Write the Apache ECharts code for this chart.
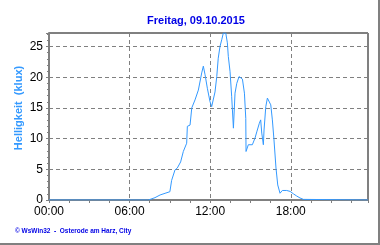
<!DOCTYPE html>
<html>
<head>
<meta charset="utf-8">
<script src="https://cdn.jsdelivr.net/npm/echarts@6/dist/echarts.min.js"></script>
<style>
html,body{margin:0;padding:0;background:#fff;}
#c{width:380px;height:245px;}
</style>
</head>
<body>
<div id="c"></div>
<script>
var titleText = "Freitag, 09.10.2015";
var yAxisTitle = "Helligkeit  (klux)";
var footerText = "\u00A9 WsWin32  -  Osterode am Harz, City";
// time of day in hours
var hours = [0, 7.4, 7.89, 8.27, 8.64, 9.0, 9.13, 9.38, 9.55, 9.8, 10.0, 10.25, 10.3, 10.5, 10.63, 10.87, 11.12, 11.37, 11.49, 11.62, 11.79, 11.99, 12.11, 12.24, 12.36, 12.49, 12.6, 12.73, 12.86, 12.98, 13.16, 13.28, 13.35, 13.48, 13.6, 13.73, 13.85, 13.98, 14.15, 14.27, 14.4, 14.55, 14.65, 14.67, 14.84, 14.97, 15.14, 15.34, 15.47, 15.66, 15.76, 15.84, 15.96, 16.01, 16.14, 16.26, 16.4, 16.51, 16.63, 16.75, 16.9, 17.03, 17.2, 17.37, 17.7, 17.95, 18.2, 18.44, 18.69, 18.94, 19.06, 23.75];
// brightness in klux
var klux = [0, 0, 0.38, 0.82, 1.09, 1.35, 3.2, 4.9, 5.2, 6.2, 7.9, 9.25, 12.0, 12.2, 15.0, 16.3, 17.9, 20.7, 21.8, 20.4, 18.2, 16.0, 15.2, 14.95, 17.6, 20.1, 23.1, 25.0, 26.1, 27.2, 27.2, 25.6, 23.4, 20.9, 16.9, 11.7, 17.4, 19.0, 20.1, 20.4, 19.7, 17.4, 13.3, 7.9, 9.0, 9.2, 9.0, 10.1, 11.1, 12.5, 13.05, 10.9, 9.0, 11.4, 15.2, 16.6, 16.3, 15.5, 13.05, 9.8, 5.2, 2.45, 1.1, 1.55, 1.55, 1.4, 1.0, 0.65, 0.33, 0.1, 0, 0];

var data = hours.map(function (h, i) { return [h, klux[i]]; });

var chart = echarts.init(document.getElementById('c'), null, {renderer: 'canvas'});
var font = 'Liberation Sans, Arial, sans-serif';
chart.setOption({
  animation: false,
  backgroundColor: '#ffffff',
  title: {
    text: titleText, left: 191, top: 10, textAlign: 'center',
    textStyle: {fontFamily: font, fontSize: 11, fontWeight: 'bold', color: '#0000e6'}
  },
  grid: {left: 49, top: 33, right: 12, bottom: 45, show: true, borderColor: '#000000', borderWidth: 1, backgroundColor: '#ffffff'},
  xAxis: {
    type: 'value', min: 0, max: 23.75, interval: 6,
    axisLine: {show: true, lineStyle: {color: '#808080', width: 2}},
    axisTick: {show: true, length: 3, lineStyle: {color: '#808080'}},
    minorTick: {show: true, splitNumber: 4, length: 3, lineStyle: {color: '#808080'}},
    splitLine: {show: true, lineStyle: {color: '#808080', type: [4, 3], width: 1}},
    axisLabel: {
      showMaxLabel: false, margin: 6, color: '#000', fontFamily: font, fontSize: 12,
      formatter: function (v) { var h = Math.round(v); return (h < 10 ? '0' : '') + h + ':00'; }
    }
  },
  yAxis: {
    type: 'value', min: 0, max: 27.2, interval: 5,
    axisLine: {show: true, lineStyle: {color: '#808080', width: 2}},
    axisTick: {show: true, length: 3, lineStyle: {color: '#808080'}},
    minorTick: {show: true, splitNumber: 5, length: 2, lineStyle: {color: '#808080'}},
    splitLine: {show: true, lineStyle: {color: '#808080', type: [4, 3], width: 1}},
    axisLabel: {showMaxLabel: false, margin: 6, color: '#000', fontFamily: font, fontSize: 12}
  },
  series: [{
    type: 'line', data: data, showSymbol: false, symbol: 'none',
    lineStyle: {color: '#3399ff', width: 1}, clip: true
  }],
  graphic: [
    {type: 'text', x: 19, y: 108, rotation: Math.PI / 2,
     style: {text: yAxisTitle, fontFamily: font, fontSize: 11, fontWeight: 'bold', fill: '#3399ff', align: 'center', verticalAlign: 'middle'}},
    {type: 'text', x: 15, y: 231,
     style: {text: footerText, fontFamily: font, fontSize: 6.5, fontWeight: 'bold', fill: '#0000e6', align: 'left', verticalAlign: 'middle'}},
    {type: 'rect', shape: {x: 378, y: 0, width: 2, height: 245}, style: {fill: '#808080'}},
    {type: 'rect', shape: {x: 0, y: 243, width: 380, height: 2}, style: {fill: '#808080'}}
  ]
});
</script>
</body>
</html>
